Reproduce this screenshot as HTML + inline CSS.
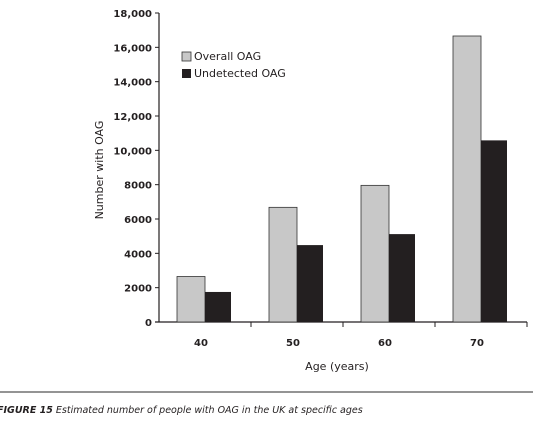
<!DOCTYPE html>
<html><head><meta charset="utf-8"><style>
html,body{margin:0;padding:0;background:#fff;}
svg{display:block;font-family:"DejaVu Sans","Liberation Sans",sans-serif;}
</style></head><body>
<svg id="chart" width="533" height="422" viewBox="0 0 533 422">
<g id="axes"></g><g id="bars"></g>
<g>
<rect x="182" y="52" width="9" height="9" fill="#c8c8c8" stroke="#333" stroke-width="0.8"/>
<text x="194" y="60" font-size="11" fill="#231f20">Overall OAG</text>
<rect x="182" y="69" width="9" height="9" fill="#231f20"/>
<text x="194" y="77" font-size="11" fill="#231f20">Undetected OAG</text>
</g>
<text transform="translate(103,170) rotate(-90)" text-anchor="middle" font-size="11" fill="#231f20">Number with OAG</text>
<text x="337" y="370" text-anchor="middle" font-size="11" fill="#231f20">Age (years)</text>
<line x1="0" y1="392" x2="533" y2="392" stroke="#555" stroke-width="1.2"/>
<text x="-3" y="413" font-size="9.5" font-style="italic" fill="#231f20"><tspan font-weight="bold">FIGURE 15</tspan>  Estimated number of people with OAG in the UK at specific ages</text>
</svg>
<script>
const categories=["40","50","60","70"];
const overall=[2650,6680,7960,16660];
const undetected=[1750,4480,5120,10580];
const yTicks=[0,2000,4000,6000,8000,10000,12000,14000,16000,18000];
const yTickLabels=["0","2000","4000","6000","8000","10,000","12,000","14,000","16,000","18,000"];
const X0=159,X1=527,Y0=322,Y1=13,YMAX=18000;
const ns="http://www.w3.org/2000/svg";
function y(v){return Y0-(v/YMAX)*(Y0-Y1);}
const bw=(X1-X0)/categories.length;
function xc(i){return X0+bw*(i+0.5);}
function mk(t,a,p){const e=document.createElementNS(ns,t);for(const k in a)e.setAttribute(k,a[k]);p.appendChild(e);return e;}
const ax=document.getElementById('axes'),bg=document.getElementById('bars');
let l=mk('line',{x1:X0,y1:Y1,x2:X0,y2:Y0,stroke:'#231f20','stroke-width':1.2},ax);


l=mk('line',{x1:X0-4,y1:Y0,x2:X1,y2:Y0,stroke:'#231f20','stroke-width':1.2},ax);


yTicks.forEach((v,i)=>{
 const t=mk('line',{x1:X0-4,y1:y(v),x2:X0,y2:y(v),stroke:'#231f20'},ax);
 
 
 const tx=mk('text',{x:X0-7,y:y(v)+4,'text-anchor':'end','font-size':10,'font-weight':'bold',fill:'#231f20'},ax);
 tx.textContent=yTickLabels[i];
 
 
});
categories.forEach((c,i)=>{
 const tk=mk('line',{x1:X0+bw*(i+1),y1:Y0,x2:X0+bw*(i+1),y2:Y0+5,stroke:'#231f20'},ax);
 
 
 const tx=mk('text',{x:xc(i)-4,y:346,'text-anchor':'middle','font-size':10,'font-weight':'bold',fill:'#231f20'},ax);
 tx.textContent=c;
 
 
 const g=mk('rect',{x:xc(i)-28,y:y(overall[i]),width:28,height:Y0-y(overall[i]),fill:'#c8c8c8',stroke:'#333','stroke-width':0.8},bg);
 
 
 const b=mk('rect',{x:xc(i),y:y(undetected[i]),width:26,height:Y0-y(undetected[i]),fill:'#231f20'},bg);
 
 
});
</script>
</body></html>
